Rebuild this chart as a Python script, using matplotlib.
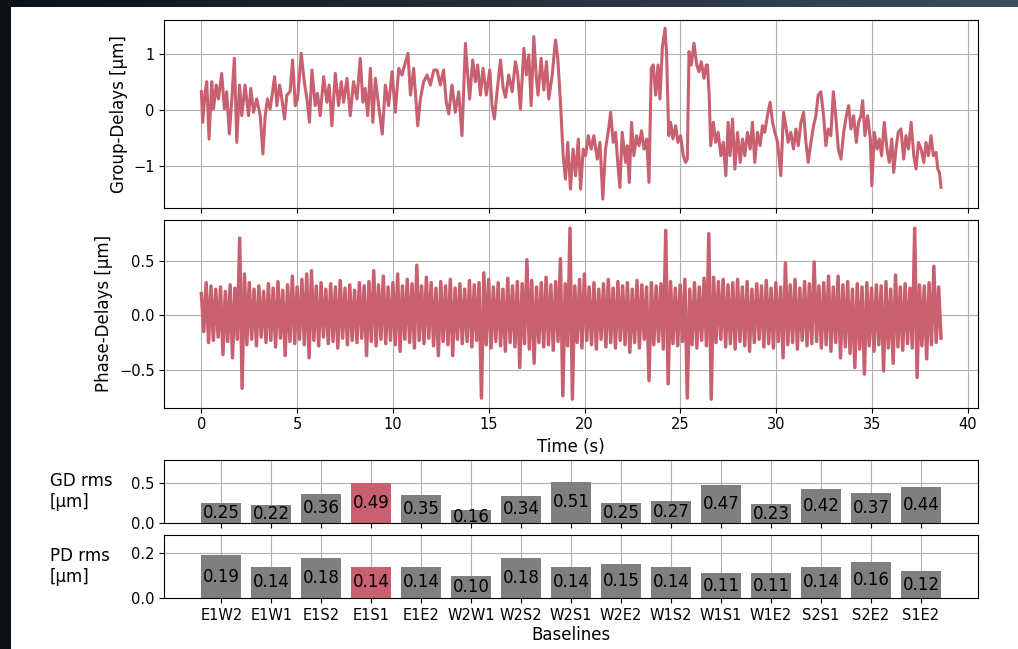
import numpy as np
import matplotlib
matplotlib.use('Agg')
from matplotlib import pyplot as plt
from matplotlib.patches import Rectangle

# group delay trace, (time [s], delay [um])
gd_trace = [
    (0.00, 0.33), (0.07, -0.22), (0.19, 0.30), (0.28, 0.51), (0.40, -0.52), (0.54, 0.51),
    (0.63, 0.02), (0.77, 0.45), (0.89, 0.20), (1.06, 0.66), (1.20, 0.02), (1.32, 0.33),
    (1.46, -0.43), (1.59, 0.20), (1.72, 0.93), (1.85, -0.58), (1.99, 0.45), (2.11, -0.10),
    (2.28, 0.45), (2.46, -0.10), (2.58, 0.39), (2.72, -0.04), (2.89, 0.20), (3.07, -0.10),
    (3.21, -0.79), (3.33, -0.10), (3.45, 0.20), (3.59, 0.02), (3.82, 0.60), (3.94, 0.08),
    (4.08, 0.45), (4.20, 0.20), (4.34, -0.16), (4.46, 0.27), (4.63, 0.33), (4.76, 0.90),
    (4.90, 0.08), (5.02, 0.20), (5.21, 1.02), (5.37, 0.51), (5.51, 0.20), (5.64, -0.22),
    (5.77, 0.72), (5.94, 0.08), (6.06, 0.30), (6.20, -0.10), (6.38, 0.60), (6.55, 0.14),
    (6.67, 0.45), (6.81, -0.28), (6.99, 0.66), (7.16, 0.08), (7.30, 0.51), (7.42, 0.14),
    (7.60, 0.57), (7.77, -0.10), (7.94, 0.51), (8.12, 0.20), (8.29, 0.93), (8.43, 0.14),
    (8.55, 0.39), (8.68, -0.10), (8.82, 0.75), (8.95, -0.22), (9.08, 0.57), (9.25, 0.08),
    (9.44, -0.43), (9.60, 0.45), (9.77, 0.08), (9.95, 0.69), (10.12, -0.04), (10.30, 0.75),
    (10.47, 0.63), (10.61, 0.81), (10.78, 1.02), (10.91, 0.27), (11.08, 0.75), (11.29, -0.28),
    (11.43, 0.20), (11.60, 0.51), (11.78, 0.63), (11.95, 0.45), (12.13, 0.72), (12.30, 0.72),
    (12.47, 0.45), (12.64, 0.72), (12.78, 0.14), (12.91, -0.07), (13.08, 0.45), (13.25, -0.04),
    (13.43, 0.33), (13.60, -0.46), (13.78, 1.20), (13.86, 0.81), (14.00, 0.20), (14.16, 0.90),
    (14.30, 0.51), (14.42, 0.81), (14.56, 0.27), (14.70, 0.75), (14.87, 0.27), (15.05, 0.72),
    (15.17, 0.08), (15.29, -0.16), (15.43, 0.33), (15.61, 0.90), (15.75, 0.39), (15.87, 0.23),
    (16.04, 0.63), (16.22, 0.33), (16.39, 0.87), (16.51, 0.63), (16.65, 0.02), (16.83, 1.11),
    (16.96, 0.63), (17.09, 0.99), (17.21, 0.08), (17.35, 1.32), (17.47, 0.63), (17.57, 0.27),
    (17.73, 0.93), (17.87, 0.36), (18.01, 0.87), (18.13, 0.20), (18.31, 0.63), (18.48, 1.26),
    (18.60, 0.93), (18.74, 0.14), (18.88, -0.82), (19.00, -1.24), (19.12, -0.58), (19.26, -1.42),
    (19.40, -0.70), (19.53, -1.18), (19.67, -0.52), (19.79, -1.42), (19.93, -0.70), (20.05, -0.82),
    (20.19, -0.46), (20.34, -0.70), (20.48, -0.46), (20.66, -0.88), (20.80, -0.58), (20.95, -1.60),
    (21.09, -0.70), (21.23, -0.40), (21.36, -0.04), (21.49, -0.58), (21.62, -0.40), (21.70, -0.82),
    (21.84, -1.39), (21.96, -0.40), (22.14, -0.94), (22.23, -0.64), (22.33, -1.30), (22.45, -0.22),
    (22.57, -0.82), (22.71, -0.46), (22.84, -0.64), (22.97, -0.37), (23.10, -0.70), (23.24, -0.52),
    (23.36, -1.30), (23.48, 0.75), (23.58, 0.81), (23.71, 0.27), (23.83, 0.81), (23.93, 0.20),
    (24.06, 1.14), (24.20, 1.47), (24.28, 0.99), (24.39, -0.46), (24.49, -0.22), (24.61, -0.52),
    (24.75, -0.28), (24.87, -0.58), (25.01, -0.46), (25.15, -0.82), (25.27, -0.94), (25.36, -0.88),
    (25.45, 1.05), (25.57, 0.81), (25.71, 1.20), (25.85, 0.81), (25.97, 0.69), (26.09, 0.87),
    (26.23, 0.57), (26.35, 0.81), (26.41, 0.81), (26.50, 0.27), (26.58, -0.64), (26.72, -0.22),
    (26.84, -0.58), (26.97, -0.40), (27.11, -0.82), (27.24, -0.58), (27.37, -1.18), (27.49, -0.22),
    (27.59, -0.82), (27.72, -0.16), (27.84, -1.06), (27.98, -0.40), (28.12, -0.94), (28.24, -0.52),
    (28.36, -0.82), (28.50, -0.40), (28.64, -0.70), (28.76, -0.22), (28.88, -0.94), (29.02, -0.40),
    (29.16, -0.64), (29.28, -0.28), (29.40, -0.40), (29.54, -0.10), (29.68, 0.14), (29.81, -0.22),
    (29.93, -0.40), (30.07, -0.58), (30.24, -1.18), (30.38, -0.04), (30.50, -0.28), (30.62, -0.58),
    (30.76, -0.40), (30.90, -0.70), (31.03, -0.34), (31.15, -0.64), (31.29, -0.22), (31.43, -0.04),
    (31.55, -0.58), (31.67, -0.94), (31.81, -0.58), (31.95, -0.28), (32.07, -0.10), (32.19, 0.27),
    (32.33, 0.33), (32.47, -0.10), (32.59, -0.64), (32.71, -0.34), (32.85, -0.46), (32.98, 0.33),
    (33.12, -0.16), (33.24, -0.70), (33.38, -0.88), (33.52, -0.40), (33.66, -0.10), (33.78, 0.08),
    (33.90, -0.34), (34.04, -0.10), (34.18, -0.58), (34.30, -0.22), (34.42, -0.10), (34.51, 0.17),
    (34.63, -0.46), (34.77, -0.10), (34.91, -0.52), (34.99, -1.36), (35.12, -0.40), (35.26, -0.70),
    (35.38, -0.52), (35.50, -0.82), (35.64, -0.22), (35.78, -0.70), (35.90, -0.94), (36.03, -0.52),
    (36.13, -1.12), (36.25, -0.70), (36.37, -0.40), (36.51, -0.34), (36.65, -0.88), (36.77, -0.46),
    (36.90, -0.70), (37.04, -0.22), (37.18, -0.82), (37.30, -1.06), (37.42, -0.58), (37.56, -0.70),
    (37.70, -0.94), (37.82, -0.58), (37.94, -0.82), (38.08, -0.46), (38.20, -0.82), (38.34, -0.76),
    (38.43, -1.06), (38.52, -1.12), (38.60, -1.39),
]

# phase delay trace: upper and lower excursions every 0.25 s [um]
pd_high = [
    0.20, 0.30, 0.27, 0.24, 0.26, 0.22, 0.28, 0.25, 0.71, 0.38,
    0.30, 0.24, 0.27, 0.22, 0.29, 0.25, 0.31, 0.23, 0.28, 0.36,
    0.26, 0.33, 0.38, 0.41, 0.27, 0.30, 0.24, 0.29, 0.26, 0.32,
    0.25, 0.28, 0.23, 0.30, 0.27, 0.31, 0.41, 0.28, 0.36, 0.26,
    0.30, 0.38, 0.27, 0.33, 0.29, 0.46, 0.27, 0.35, 0.30, 0.25,
    0.31, 0.27, 0.33, 0.25, 0.29, 0.24, 0.32, 0.28, 0.30, 0.39,
    0.33, 0.26, 0.30, 0.24, 0.34, 0.27, 0.31, 0.29, 0.51, 0.32,
    0.26, 0.30, 0.35, 0.28, 0.31, 0.52, 0.29, 0.80, 0.27, 0.33,
    0.38, 0.26, 0.30, 0.24, 0.29, 0.33, 0.25, 0.31, 0.27, 0.30,
    0.24, 0.32, 0.28, 0.26, 0.30, 0.27, 0.29, 0.78, 0.31, 0.25,
    0.28, 0.33, 0.24, 0.30, 0.26, 0.34, 0.75, 0.35, 0.31, 0.33,
    0.28, 0.30, 0.33, 0.26, 0.31, 0.24, 0.29, 0.27, 0.32, 0.25,
    0.30, 0.26, 0.48, 0.28, 0.33, 0.25, 0.31, 0.29, 0.49, 0.27,
    0.30, 0.36, 0.26, 0.36, 0.28, 0.31, 0.24, 0.29, 0.26, 0.30,
    0.25, 0.28, 0.27, 0.31, 0.24, 0.37, 0.26, 0.29, 0.25, 0.80,
    0.28, 0.27, 0.30, 0.45, 0.26,
]
pd_low = [
    -0.15, -0.25, -0.23, -0.20, -0.36, -0.24, -0.39, -0.22, -0.67, -0.27,
    -0.22, -0.28, -0.20, -0.25, -0.23, -0.29, -0.21, -0.37, -0.24, -0.26,
    -0.22, -0.27, -0.39, -0.23, -0.28, -0.20, -0.26, -0.24, -0.30, -0.21,
    -0.27, -0.23, -0.25, -0.21, -0.37, -0.24, -0.28, -0.22, -0.26, -0.23,
    -0.27, -0.33, -0.22, -0.25, -0.30, -0.23, -0.26, -0.21, -0.28, -0.37,
    -0.24, -0.27, -0.37, -0.22, -0.26, -0.24, -0.29, -0.23, -0.76, -0.27,
    -0.30, -0.24, -0.28, -0.33, -0.25, -0.29, -0.48, -0.26, -0.31, -0.44,
    -0.25, -0.29, -0.27, -0.32, -0.24, -0.74, -0.28, -0.77, -0.25, -0.30,
    -0.23, -0.27, -0.31, -0.22, -0.29, -0.25, -0.30, -0.23, -0.27, -0.34,
    -0.25, -0.30, -0.22, -0.60, -0.27, -0.24, -0.31, -0.63, -0.26, -0.28,
    -0.24, -0.76, -0.27, -0.30, -0.23, -0.28, -0.77, -0.25, -0.22, -0.29,
    -0.26, -0.31, -0.24, -0.28, -0.33, -0.25, -0.22, -0.29, -0.26, -0.30,
    -0.24, -0.39, -0.27, -0.25, -0.31, -0.23, -0.28, -0.26, -0.24, -0.30,
    -0.27, -0.33, -0.25, -0.39, -0.29, -0.35, -0.48, -0.31, -0.54, -0.28,
    -0.33, -0.27, -0.51, -0.30, -0.44, -0.29, -0.32, -0.26, -0.30, -0.57,
    -0.28, -0.40, -0.27, -0.25, -0.21,
]
t_end = 38.6

baselines = ['E1W2', 'E1W1', 'E1S2', 'E1S1', 'E1E2', 'W2W1', 'W2S2', 'W2S1',
             'W2E2', 'W1S2', 'W1S1', 'W1E2', 'S2S1', 'S2E2', 'S1E2']
gd_rms = [0.25, 0.22, 0.36, 0.49, 0.35, 0.16, 0.34, 0.51, 0.25, 0.27, 0.47, 0.23, 0.42, 0.37, 0.44]
pd_rms = [0.19, 0.14, 0.18, 0.14, 0.14, 0.10, 0.18, 0.14, 0.15, 0.14, 0.11, 0.11, 0.14, 0.16, 0.12]
selected = 'E1S1'

red = '#c8606f'
gray = '#7f7f7f'

gd_t = np.array([p[0] for p in gd_trace])
gd_v = np.array([p[1] for p in gd_trace])

# phase delays drawn as a line swinging between the read highs and lows
pd_v = np.ravel(np.column_stack([pd_high, pd_low]))
pd_t = np.linspace(0, t_end, len(pd_v))

W, H = 1018, 649
fig = plt.figure(figsize=(W / 100, H / 100), dpi=100)
fig.patch.set_facecolor('white')

# dark slide frame on left and top
fig.patches.append(Rectangle((0, 0), 11 / W, 1, transform=fig.transFigure,
                             facecolor='#0b1117', edgecolor='none', zorder=0))
band = fig.add_axes([0, 1 - 7 / H, 1, 7 / H])
band.imshow(np.linspace(0, 1, 256).reshape(1, -1), aspect='auto',
            cmap=matplotlib.colors.LinearSegmentedColormap.from_list('frame', ['#0b1117', '#3c4d5c']))
band.axis('off')

left = 164.4 / W
width = (978 - 164.4) / W
ax_gd = fig.add_axes([left, 1 - 207.7 / H, width, 188 / H])
ax_pd = fig.add_axes([left, 1 - 407.7 / H, width, 188 / H], sharex=ax_gd)
ax_b1 = fig.add_axes([left, 1 - 523 / H, width, 63 / H])
ax_b2 = fig.add_axes([left, 1 - 598 / H, width, 63 / H], sharex=ax_b1)

ax_gd.plot(gd_t, gd_v, color=red, lw=2.2)
ax_gd.set_ylabel('Group-Delays [µm]', fontsize=12)
ax_gd.grid(True)
ax_gd.tick_params(labelbottom=False, labelsize=10.5)

ax_pd.plot(pd_t, pd_v, color=red, lw=2.5)
ax_pd.set_ylabel('Phase-Delays [µm]', fontsize=12)
ax_pd.set_xlabel('Time (s)', fontsize=12)
ax_pd.grid(True)
ax_pd.tick_params(labelsize=10.5)
ax_pd.set_xticks(np.arange(0, 41, 5))

colors = [red if b == selected else gray for b in baselines]
x = np.arange(len(baselines))

bars = ax_b1.bar(x, gd_rms, color=colors, width=0.8)
ax_b1.bar_label(bars, fmt='%.2f', label_type='center', fontsize=12)
ax_b1.set_ylim(0, 0.78)
ax_b1.set_yticks([0.0, 0.5])
ax_b1.grid(True)
ax_b1.set_axisbelow(True)
ax_b1.tick_params(labelbottom=False, labelsize=10.5)
ax_b1.set_ylabel('GD rms\n[µm]', fontsize=12, rotation=0, ha='left', va='center')
ax_b1.yaxis.set_label_coords(-0.1406, 0.5)

bars = ax_b2.bar(x, pd_rms, color=colors, width=0.8)
ax_b2.bar_label(bars, fmt='%.2f', label_type='center', fontsize=12)
ax_b2.set_ylim(0, 0.28)
ax_b2.set_yticks([0.0, 0.2])
ax_b2.grid(True)
ax_b2.set_axisbelow(True)
ax_b2.set_xticks(x)
ax_b2.set_xticklabels(baselines)
ax_b2.tick_params(labelsize=10.5)
ax_b2.set_xlabel('Baselines', fontsize=12, labelpad=2)
ax_b2.set_ylabel('PD rms\n[µm]', fontsize=12, rotation=0, ha='left', va='center')
ax_b2.yaxis.set_label_coords(-0.1406, 0.5)

fig.savefig('out.png', dpi=100)
